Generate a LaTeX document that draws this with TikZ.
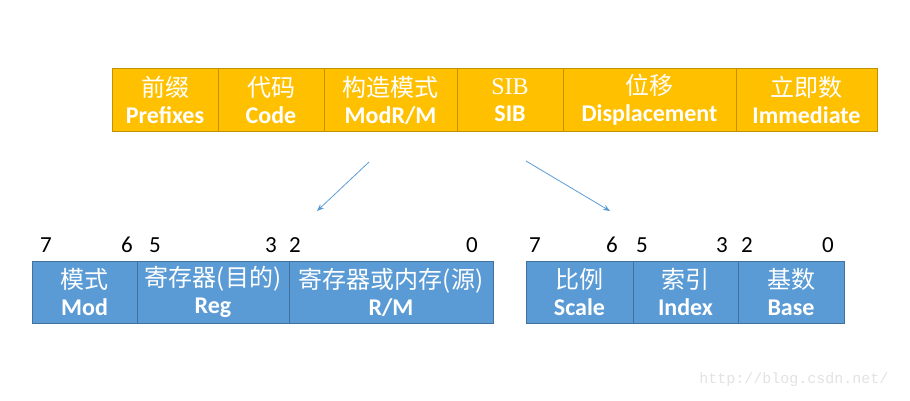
\documentclass[tikz,border=0pt]{standalone}
\usepackage{fontspec}
\setmainfont{Carlito}
\newfontfamily\cjk{Noto Sans CJK SC}
\newfontfamily\sibserif{Liberation Serif}
\newfontfamily\wmono{Liberation Mono}
\usetikzlibrary{arrows.meta}
\definecolor{gold}{HTML}{FFC000}
\definecolor{goldline}{HTML}{BF9000}
\definecolor{bluefill}{HTML}{5B9BD5}
\definecolor{blueline}{HTML}{41719C}
\definecolor{wm}{HTML}{E2E2E2}
\newcommand{\cn}[1]{{\cjk\fontsize{24}{27}\selectfont #1}}
\newcommand{\en}[1]{{\bfseries\fontsize{24}{27}\selectfont #1}}
\begin{document}
\begin{tikzpicture}[x=1pt,y=-1pt,
  cell/.style={draw, line width=1pt, inner sep=0pt, align=center, text=white,
    font=\fontsize{24}{27}\selectfont, minimum height=#1},
  topcell/.style={cell=63pt, fill=gold, draw=goldline},
  botcell/.style={cell=62pt, fill=bluefill, draw=blueline},
  bitnum/.style={font=\fontsize{23}{23}\selectfont, inner sep=0pt, text=black},
  arr/.style={draw=bluefill, line width=0.8pt, -{Stealth[length=7pt,width=5.5pt]}}
]
\useasboundingbox (0,0) rectangle (910,400);
% top row
\node[topcell, minimum width=106pt] (pre) at (165,100) {\cn{前缀}\\\en{Prefixes}};
\node[topcell, minimum width=106pt] (code) at (271,100) {\cn{代码}\\\en{Code}};
\node[topcell, minimum width=133pt] (modrm) at (390.5,100) {\cn{构造模式}\\\en{ModR/M}};
\node[topcell, minimum width=106pt] (sib) at (510,100) {{\sibserif\fontsize{24}{27}\selectfont SIB}\\\en{SIB}};
\node[topcell, minimum width=173pt] (disp) at (649.5,100) {\cn{位移}\\\en{Displacement}};
\node[topcell, minimum width=141pt] (imm) at (806.5,100) {\cn{立即数}\\\en{Immediate}};
% bottom left
\node[botcell, minimum width=105pt] (mod) at (84.5,292) {\cn{模式}\\\en{Mod}};
\node[botcell, minimum width=152pt] (reg) at (213,292) {\cn{寄存器(目的)}\\\en{Reg}};
\node[botcell, minimum width=204pt] (rm) at (391,292) {\cn{寄存器或内存(源)}\\\en{R/M}};
% bottom right
\node[botcell, minimum width=107pt] (scale) at (579.5,292) {\cn{比例}\\\en{Scale}};
\node[botcell, minimum width=105pt] (index) at (685.5,292) {\cn{索引}\\\en{Index}};
\node[botcell, minimum width=106pt] (base) at (791,292) {\cn{基数}\\\en{Base}};
% bit numbers
\node[bitnum] (l7) at (46,245) {7};
\node[bitnum] (l6) at (127,245) {6};
\node[bitnum] (l5) at (155,245) {5};
\node[bitnum] (l3) at (271,245) {3};
\node[bitnum] (l2) at (295,245) {2};
\node[bitnum] (l0) at (472,245) {0};
\node[bitnum] (r7) at (535,245) {7};
\node[bitnum] (r6) at (612,245) {6};
\node[bitnum] (r5) at (642,245) {5};
\node[bitnum] (r3) at (722,245) {3};
\node[bitnum] (r2) at (747,245) {2};
\node[bitnum] (r0) at (828,245) {0};
% arrows
\coordinate (a1s) at (369,162);
\coordinate (a1e) at (317,211);
\coordinate (a2s) at (526,161);
\coordinate (a2e) at (610,211);
\draw[arr] (a1s) -- (a1e);
\draw[arr] (a2s) -- (a2e);
% watermark
\node[text=wm, font=\wmono\fontsize{15}{15}\selectfont, inner sep=0pt] (wmark) at (794,380) {http://blog.csdn.net/};
\end{tikzpicture}
\end{document}
